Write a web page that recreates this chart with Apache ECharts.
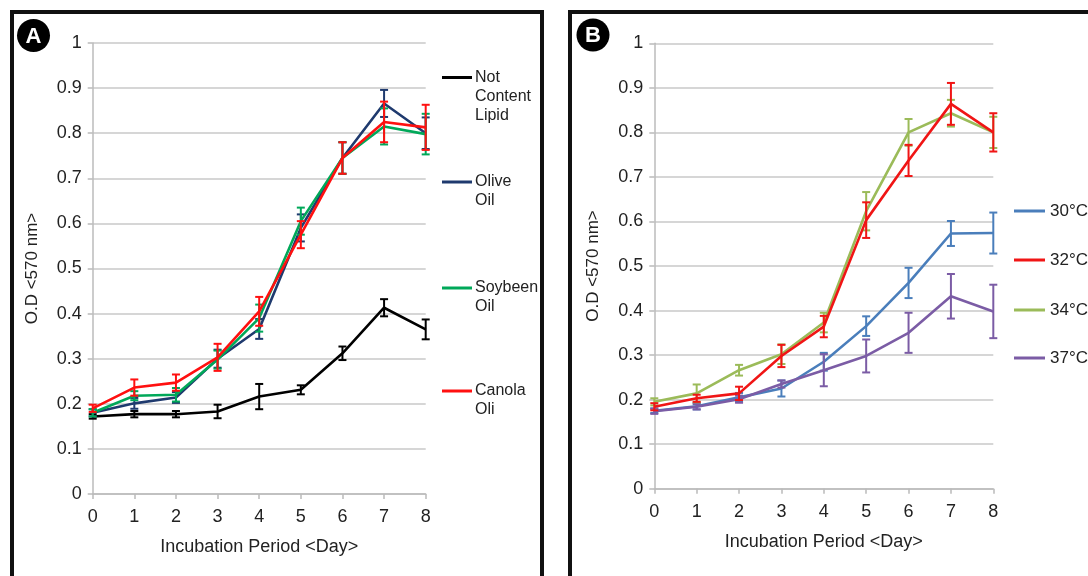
<!DOCTYPE html>
<html><head><meta charset="utf-8">
<script src="https://cdn.jsdelivr.net/npm/echarts@6/dist/echarts.min.js"></script>
<style>html,body{margin:0;padding:0;background:#fff}#c{width:1088px;height:576px}</style>
</head><body><div id="c"></div>
<script>
const days = [0,1,2,3,4,5,6,7,8];
const yTicks = [0,0.1,0.2,0.3,0.4,0.5,0.6,0.7,0.8,0.9,1];
// Panel A
const namesA = ['Not\nContent\nLipid','Olive\nOil','Soybeen\nOil','Canola\nOli'];
const notLipid    = [0.172,0.177,0.177,0.183,0.216,0.231,0.312,0.413,0.365];
const notLipidErr = [0.005,0.007,0.007,0.015,0.028,0.010,0.015,0.019,0.022];
const olive       = [0.180,0.201,0.214,0.300,0.366,0.590,0.745,0.866,0.800];
const oliveErr    = [0.008,0.012,0.012,0.020,0.022,0.030,0.035,0.030,0.035];
const soybean     = [0.180,0.218,0.220,0.298,0.390,0.605,0.745,0.815,0.798];
const soybeanErr  = [0.008,0.010,0.015,0.020,0.030,0.030,0.035,0.040,0.045];
const canola      = [0.190,0.236,0.247,0.303,0.405,0.575,0.745,0.825,0.813];
const canolaErr   = [0.008,0.018,0.018,0.030,0.032,0.030,0.035,0.045,0.050];
// Panel B
const namesB = ['30°C','32°C','34°C','37°C'];
const t30    = [0.175,0.185,0.205,0.225,0.285,0.365,0.462,0.573,0.574];
const t30Err = [0.005,0.007,0.010,0.018,0.020,0.022,0.034,0.028,0.046];
const t32    = [0.184,0.203,0.214,0.298,0.364,0.603,0.737,0.864,0.800];
const t32Err = [0.008,0.008,0.015,0.025,0.024,0.040,0.035,0.047,0.043];
const t34    = [0.195,0.214,0.266,0.302,0.373,0.623,0.800,0.843,0.800];
const t34Err = [0.008,0.020,0.012,0.022,0.022,0.043,0.030,0.030,0.035];
const t37    = [0.174,0.184,0.201,0.235,0.266,0.298,0.350,0.432,0.398];
const t37Err = [0.006,0.006,0.008,0.008,0.036,0.037,0.045,0.050,0.060];

const colorsA = ['#000000','#1f3a6e','#00a859','#ff1010'];
const colorsB = ['#4a7ebb','#f01515','#9bbb59','#7b5ca5'];
const FONT = 'Liberation Sans, Arial, sans-serif';
const TXT = '#222';

function lineSeries(name, data, color, gi, z){
  return {type:'line', name:name, xAxisIndex:gi, yAxisIndex:gi, data:days.map((d,i)=>[d,data[i]]),
    symbol:'none', lineStyle:{color:color,width:2.6}, itemStyle:{color:color}, z:z, animation:false};
}
function errSeries(data, err, color, gi, z){
  return {type:'custom', xAxisIndex:gi, yAxisIndex:gi, z:z, animation:false, silent:true,
    data:days.map((d,i)=>[d,data[i]-err[i],data[i]+err[i]]),
    renderItem:function(params, api){
      const lo = api.coord([api.value(0), api.value(1)]);
      const hi = api.coord([api.value(0), api.value(2)]);
      const w = 4;
      const st = {stroke:color, lineWidth:2};
      return {type:'group', children:[
        {type:'line', shape:{x1:lo[0],y1:lo[1],x2:hi[0],y2:hi[1]}, style:st},
        {type:'line', shape:{x1:lo[0]-w,y1:lo[1],x2:lo[0]+w,y2:lo[1]}, style:st},
        {type:'line', shape:{x1:hi[0]-w,y1:hi[1],x2:hi[0]+w,y2:hi[1]}, style:st}
      ]};
    }};
}
function xAx(gi){
  return {type:'value', gridIndex:gi, min:0, max:8, interval:1,
    name:'Incubation Period <Day>', nameLocation:'middle', nameGap:44,
    nameTextStyle:{fontFamily:FONT, fontSize:18, color:TXT},
    axisLine:{lineStyle:{color:'#bbbbbb', width:1.5}},
    axisTick:{show:true, length:5, lineStyle:{color:'#bbbbbb', width:1.5}},
    axisLabel:{fontFamily:FONT, fontSize:18, color:TXT, margin:14},
    splitLine:{show:false}};
}
function yAx(gi){
  return {type:'value', gridIndex:gi, min:0, max:1, interval:0.1,
    name:'O.D <570 nm>', nameLocation:'middle', nameGap:52, nameRotate:90,
    nameTextStyle:{fontFamily:FONT, fontSize:17, color:TXT},
    axisLine:{show:true, lineStyle:{color:'#bbbbbb', width:1.5}},
    axisTick:{show:true, length:5, lineStyle:{color:'#bbbbbb', width:1.5}},
    axisLabel:{fontFamily:FONT, fontSize:18, color:TXT, margin:11,
      formatter:function(v){return String(Math.round(v*10)/10);}},
    splitLine:{show:true, lineStyle:{color:'#c8c8c8', width:1.5}}};
}

const seriesA = [notLipid, olive, soybean, canola];
const errA = [notLipidErr, oliveErr, soybeanErr, canolaErr];
const seriesB = [t30, t32, t34, t37];
const errB = [t30Err, t32Err, t34Err, t37Err];
const series = [];
seriesA.forEach((s,i)=>{ series.push(lineSeries(namesA[i], s, colorsA[i], 0, 10+i*2)); series.push(errSeries(s, errA[i], colorsA[i], 0, 11+i*2)); });
[0,3,2,1].forEach(i=>{ series.push(lineSeries(namesB[i], seriesB[i], colorsB[i], 1, 10+series.length)); series.push(errSeries(seriesB[i], errB[i], colorsB[i], 1, 10+series.length)); });

// legends drawn as graphics
const graphics = [];
graphics.push({type:'rect', shape:{x:12, y:12, width:530, height:600}, style:{fill:'none', stroke:'#111', lineWidth:4}, z:100});
graphics.push({type:'rect', shape:{x:570, y:12, width:560, height:600}, style:{fill:'none', stroke:'#111', lineWidth:4}, z:100});
[['A',33.5,35.5],['B',593,35]].forEach(p=>{
  graphics.push({type:'circle', shape:{cx:p[1], cy:p[2], r:16.5}, style:{fill:'#000'}, z:100});
  graphics.push({type:'text', x:p[1], y:p[2]+1, style:{text:p[0], fill:'#fff', font:'bold 22px '+FONT, align:'center', verticalAlign:'middle'}, z:101});
});
const legA = [77.5, 182, 288, 391];
namesA.forEach((n,i)=>{
  graphics.push({type:'line', shape:{x1:442,y1:legA[i],x2:472,y2:legA[i]}, style:{stroke:colorsA[i], lineWidth:3}, z:100});
  graphics.push({type:'text', x:475, y:legA[i]-10, style:{text:n, fill:TXT, font:'16px '+FONT, lineHeight:19.3, align:'left', verticalAlign:'top'}, z:100});
});
const legB = [211, 260, 310, 358];
namesB.forEach((n,i)=>{
  graphics.push({type:'line', shape:{x1:1014,y1:legB[i],x2:1045,y2:legB[i]}, style:{stroke:colorsB[i], lineWidth:3}, z:100});
  graphics.push({type:'text', x:1050, y:legB[i], style:{text:n, fill:TXT, font:'17px '+FONT, align:'left', verticalAlign:'middle'}, z:100});
});

const chart = echarts.init(document.getElementById('c'), null, {renderer:'canvas'});
chart.setOption({
  backgroundColor:'#ffffff',
  animation:false,
  grid:[{left:92.7, top:43, width:333, height:451},
        {left:654.3, top:43.3, width:339, height:445.4}],
  xAxis:[xAx(0), xAx(1)],
  yAxis:[yAx(0), yAx(1)],
  series:series,
  graphic:graphics
});
</script></body></html>
